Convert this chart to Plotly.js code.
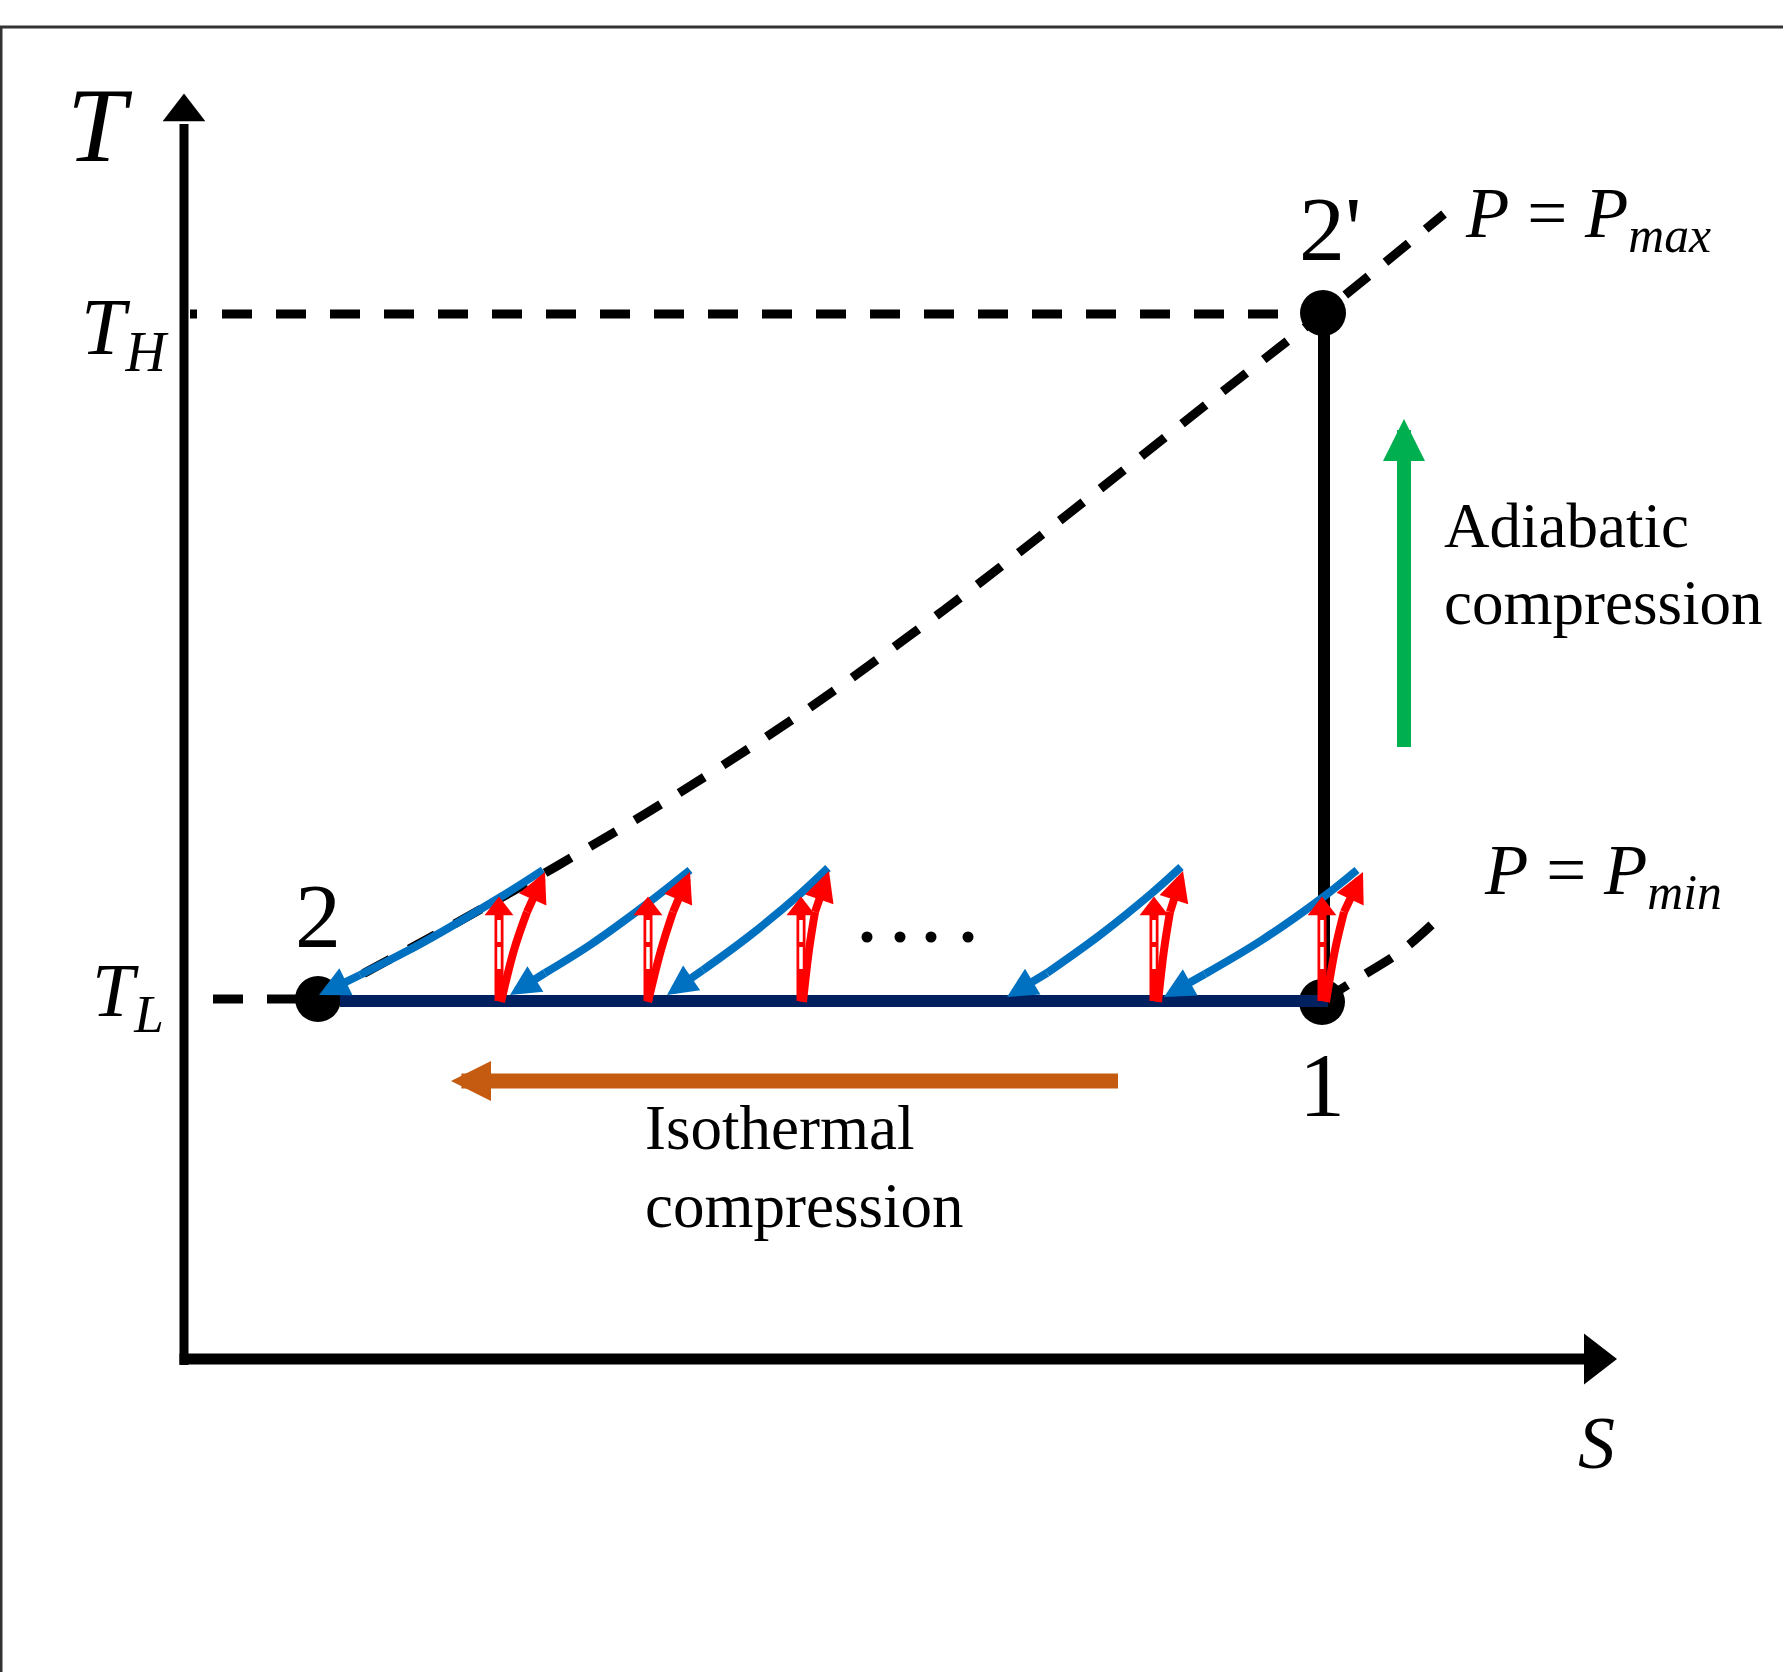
<!DOCTYPE html>
<html>
<head>
<meta charset="utf-8">
<script src="https://cdn.plot.ly/plotly-3.0.1.min.js"></script>
<style>
html,body{margin:0;padding:0;background:#ffffff;}
#chart{width:1783px;height:1672px;}
</style>
</head>
<body>
<div id="chart"></div>
<script>
// ===== Data: schematic T-s diagram (entropy s, temperature T, arbitrary units) =====
const T_L = 3.58;
const T_H = 10.45;

// state points 2, 1, 2'
const stateNames = ['2', '1', "2'"];
const stateS = [1.34, 11.38, 11.39];
const stateT = [3.60, 3.57, 10.46];

// isothermal line 2 -> 1 and adiabat 1 -> 2'
const isoS = [1.56, 11.44];
const adiabS = 11.40;

// isobar P = Pmax (dashed)
const pmaxS = [1.34, 1.86, 2.38, 3.15, 3.73, 4.87, 6.18, 7.60, 9.02, 10.38, 11.39, 12.60];
const pmaxT = [3.60, 3.89, 4.17, 4.60, 4.93, 5.61, 6.46, 7.49, 8.59, 9.67, 10.46, 11.45];

// isobar P = Pmin (dashed)
const pminS = [11.38, 11.73, 12.16, 12.56];
const pminT = [3.58, 3.80, 4.07, 4.42];

// blue (cooling) curved arrows: body points and tip
const blueS = [
  [3.59, 3.15, 2.38, 1.76],
  [5.06, 4.64, 4.06, 3.61],
  [6.44, 6.16, 5.64, 5.19],
  [9.97, 9.68, 9.16, 8.63],
  [11.73, 11.38, 10.78, 10.21]
];
const blueT = [
  [4.89, 4.61, 4.16, 3.84],
  [4.89, 4.56, 4.14, 3.86],
  [4.91, 4.65, 4.22, 3.89],
  [4.92, 4.66, 4.24, 3.86],
  [4.89, 4.61, 4.19, 3.85]
];
const blueTipS = [1.35, 3.26, 4.83, 8.23, 9.80];
const blueTipT = [3.64, 3.64, 3.64, 3.62, 3.62];

// red (compression) curved arrows: body points and tip
const redS = [
  [3.17, 3.30, 3.43],
  [4.64, 4.77, 4.89],
  [6.19, 6.25, 6.31],
  [9.74, 9.80, 9.86],
  [11.42, 11.51, 11.60]
];
const redT = [3.57, 4.09, 4.47];
const redTipS = [3.61, 5.06, 6.45, 9.99, 11.79];
const redTipT = [4.87, 4.87, 4.88, 4.88, 4.87];

// red dashed vertical arrows
const dashArrowS = [3.15, 4.64, 6.17, 9.70, 11.38];
const dashArrowBaseT = 3.58;
const dashArrowHeadT = 4.50;
const dashWhiteT = [3.90, 4.44];

// ellipsis dots
const dotS = [6.83, 7.16, 7.47, 7.84];
const dotT = [4.22, 4.22, 4.22, 4.22];

// axis arrows
const yAxisT = [-0.06, 12.35];
const yHeadT = 12.47;
const xAxisS = [-0.045, 14.0];
const xHeadS = 14.11;

// process arrows
const greenS = 12.20, greenT = [6.12, 9.40];
const orangeT = 2.78, orangeS = [9.34, 2.67];

// ===== Styles =====
const BLUE = '#0070C0', RED = '#FF0000', GREEN = '#00B050', ORANGE = '#C55A11', NAVY = '#002060';
const SERIF = 'Liberation Serif, Times New Roman, serif';

function line(xs, ys, color, width, dash, shape) {
  return {type: 'scatter', mode: 'lines', x: xs, y: ys, hoverinfo: 'skip',
    line: {color: color, width: width, dash: dash || 'solid', shape: shape || 'linear', smoothing: 1}};
}
function markers(xs, ys, symbol, size, color) {
  return {type: 'scatter', mode: 'markers', x: xs, y: ys, hoverinfo: 'skip',
    marker: {symbol: symbol, size: size, color: color, line: {width: 0}}};
}
function head(x, y, ax, ay, color, width, size, style) {
  return {x: x, y: y, ax: ax, ay: ay, xref: 'x', yref: 'y', axref: 'x', ayref: 'y',
    text: '', font: {size: 1}, borderpad: 0, borderwidth: 0,
    showarrow: true, arrowhead: style, arrowsize: size, arrowwidth: width,
    arrowcolor: color, standoff: 0, startstandoff: 0};
}
function label(text, x, y, size, xanchor, align) {
  return {x: x, y: y, xref: 'x', yref: 'y', text: text, showarrow: false,
    xanchor: xanchor || 'center', yanchor: 'middle', align: align || 'center',
    font: {family: SERIF, size: size, color: '#000000'}};
}

const thDash = '7px,25px,' + Array(26).fill('30px,24px').join(',');

const traces = [];
// dashed guide lines
traces.push(line([0.06, 11.15], [T_H, T_H], '#000', 9, thDash));
traces.push(line([0.29, stateS[0]], [stateT[0], stateT[0]], '#000', 9, '30px,24px'));
traces.push(line(pmaxS, pmaxT, '#000', 9, '30px,22px', 'spline'));
traces.push(line(pminS, pminT, '#000', 9, '30px,22px', 'spline'));
// axes
traces.push(line([0, 0], yAxisT, '#000', 9));
traces.push(line(xAxisS, [0, 0], '#000', 11));
traces.push(markers([0], [yHeadT], 'triangle-up', 37, '#000'));
traces.push(markers([xHeadS], [0], 'triangle-right', 44, '#000'));
// adiabat
traces.push(line([adiabS, adiabS], [T_L, T_H], '#000', 12));
// state points
traces.push(markers(stateS, stateT, 'circle', 46, '#000'));
// isotherm
traces.push(line(isoS, [T_L, T_L], NAVY, 12));
// red curved arrows bodies
redS.forEach(function (xs) { traces.push(line(xs, redT, RED, 8, 'solid', 'spline')); });
// blue curved arrows bodies
blueS.forEach(function (xs, i) { traces.push(line(xs, blueT[i], BLUE, 8, 'solid', 'spline')); });
// red dashed vertical arrows
dashArrowS.forEach(function (s) {
  traces.push(line([s, s], [dashArrowBaseT, dashArrowHeadT], RED, 9));
  traces.push(line([s, s], dashWhiteT, '#ffffff', 3.5, '22px,5px'));
});
traces.push(markers(dashArrowS, dashArrowS.map(function () { return dashArrowHeadT; }), 'triangle-up', 25, RED));
// ellipsis
traces.push(markers(dotS, dotT, 'circle', 11, '#000'));

const annotations = [];
redS.forEach(function (xs, i) {
  annotations.push(head(redTipS[i], redTipT[i], xs[xs.length - 1], redT[redT.length - 1], RED, 8, 0.75, 2));
});
blueS.forEach(function (xs, i) {
  const ts = blueT[i];
  annotations.push(head(blueTipS[i], blueTipT[i], xs[xs.length - 1], ts[ts.length - 1], BLUE, 8, 0.75, 2));
});
annotations.push(head(greenS, greenT[1], greenS, greenT[0], GREEN, 14, 0.6, 2));
annotations.push(head(orangeS[1], orangeT, orangeS[0], orangeT, ORANGE, 15, 0.533, 2));

// text labels
annotations.push(label('<i>T</i>', -0.84, 12.34, 106));
annotations.push(label('<i>S</i>', 14.12, -0.84, 74));
annotations.push(label('<i>T<sub>H</sub></i>', -0.59, 10.26, 80));
annotations.push(label('<i>T<sub>L</sub></i>', -0.56, 3.63, 76));
annotations.push(label(stateNames[0], stateS[0], 4.43, 92));
annotations.push(label(stateNames[1], stateS[1], 2.74, 92));
annotations.push(label(stateNames[2], 11.46, 11.30, 92));
annotations.push(label('<i>P</i> = <i>P<sub>max</sub></i>', 12.79, 11.41, 71, 'left', 'left'));
annotations.push(label('<i>P</i> = <i>P<sub>min</sub></i>', 12.98, 4.84, 71, 'left', 'left'));
annotations.push(label('Adiabatic', 12.58, 8.33, 63, 'left', 'left'));
annotations.push(label('compression', 12.58, 7.56, 63, 'left', 'left'));
annotations.push(label('Isothermal', 4.59, 2.31, 63, 'left', 'left'));
annotations.push(label('compression', 4.59, 1.53, 63, 'left', 'left'));

const layout = {
  width: 1783, height: 1672,
  margin: {l: 0, r: 0, t: 0, b: 0, pad: 0},
  paper_bgcolor: '#ffffff', plot_bgcolor: '#ffffff',
  showlegend: false, hovermode: false,
  xaxis: {range: [-1.84, 15.99], visible: false, fixedrange: true},
  yaxis: {range: [-3.13, 13.59], visible: false, fixedrange: true},
  annotations: annotations,
  shapes: [
    {type: 'line', xref: 'paper', yref: 'paper', x0: 0, x1: 1, y0: 1 - 27 / 1672, y1: 1 - 27 / 1672,
      line: {color: '#333333', width: 3}},
    {type: 'line', xref: 'paper', yref: 'paper', x0: 1 / 1783, x1: 1 / 1783, y0: 0, y1: 1 - 27 / 1672,
      line: {color: '#333333', width: 3}}
  ]
};

Plotly.newPlot('chart', traces, layout, {staticPlot: true, displayModeBar: false});
</script>
</body>
</html>
